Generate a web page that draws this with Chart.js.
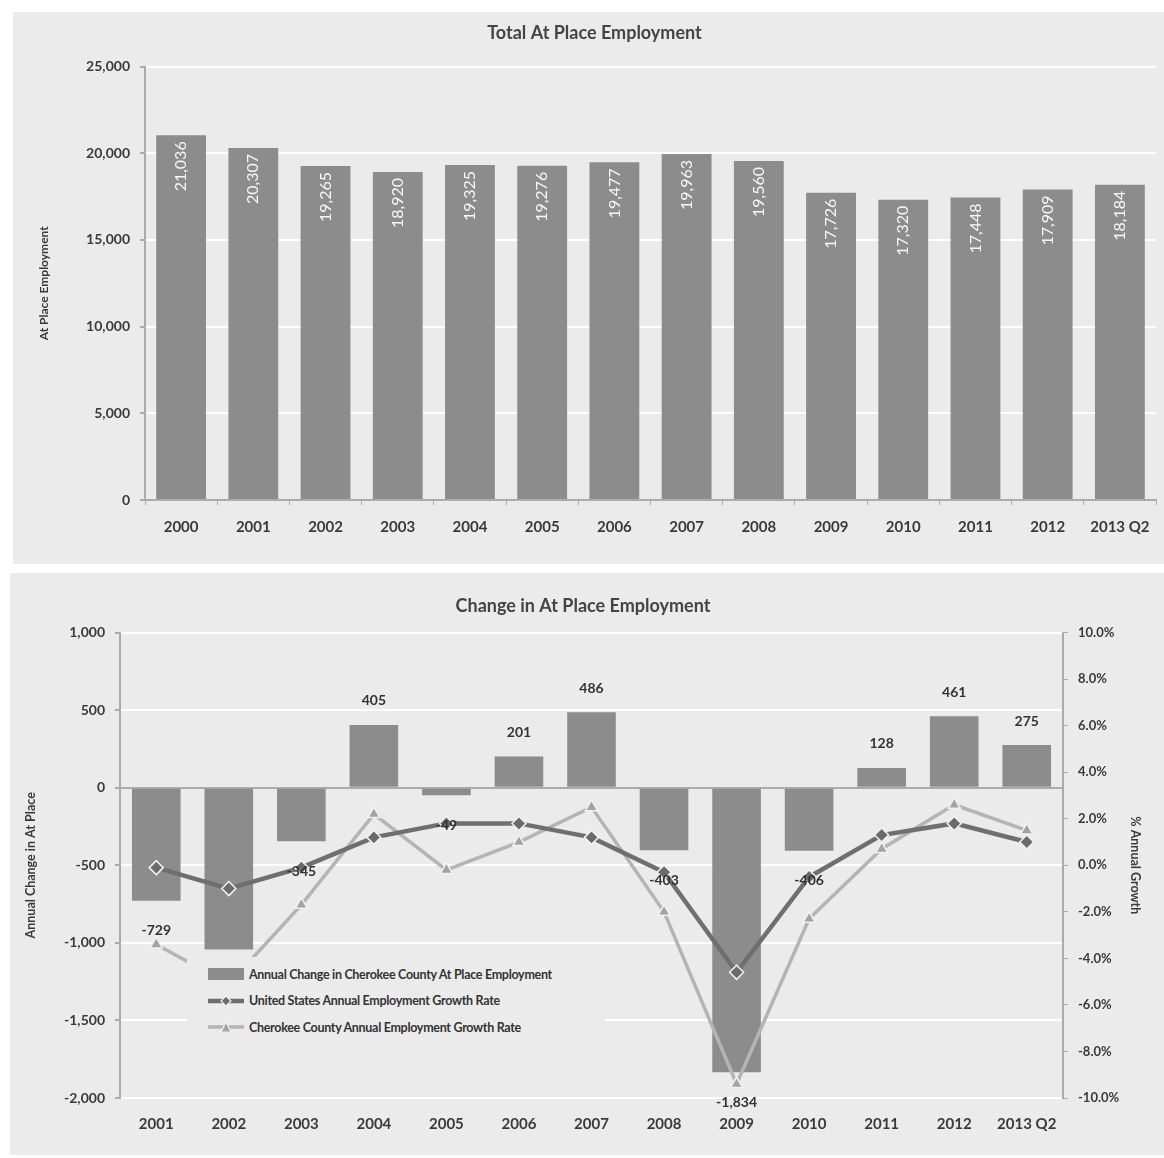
<!DOCTYPE html>
<html>
<head>
  <title>At Place Employment</title>
  <script src="https://cdn.jsdelivr.net/npm/chart.js"></script>
  <style>
    body {
      margin: 0;
      background: #ffffff;
      font-family: 'Lato', sans-serif;
    }

    .panel {
      position: absolute;
      background: #ebebeb;
    }

    #topPanel { left: 13px; top: 12px; width: 1151px; height: 552px; }
    #bottomPanel { left: 10px; top: 573px; width: 1154px; height: 582px; }

    .legend {
      position: absolute;
      left: 177px;
      top: 384px;
      width: 418px;
      padding: 4px 0 4px 20px;
      background: #ebebeb;
      box-sizing: border-box;
    }

    .legend .row {
      display: flex;
      align-items: center;
      height: 26.5px;
      font-size: 12.5px;
      font-weight: bold;
      color: #333;
      white-space: nowrap;
      letter-spacing: -0.3px;
    }

    .legend svg { margin-right: 4px; flex: none; }
  </style>
</head>
<body>

  <div class="panel" id="topPanel">
    <canvas id="totalChart" width="1151" height="552"></canvas>
  </div>

  <div class="panel" id="bottomPanel">
    <canvas id="changeChart" width="1154" height="582"></canvas>
    <div class="legend">
      <div class="row">
        <svg width="38" height="14"><rect x="1" y="1" width="36" height="12" fill="#8c8c8c"/></svg>
        Annual Change in Cherokee County At Place Employment
      </div>
      <div class="row">
        <svg width="38" height="14">
          <line x1="1" y1="7" x2="37" y2="7" stroke="#6d6d6d" stroke-width="4.5"/>
          <polygon points="19,2 24,7 19,12 14,7" fill="#6d6d6d" stroke="#f2f2f2" stroke-width="1.2"/>
        </svg>
        United States Annual Employment Growth Rate
      </div>
      <div class="row">
        <svg width="38" height="14">
          <line x1="1" y1="7" x2="37" y2="7" stroke="#b4b4b4" stroke-width="3.5"/>
          <polygon points="19,2 24,12 14,12" fill="#a3a3a3" stroke="#f2f2f2" stroke-width="1.2"/>
        </svg>
        Cherokee County Annual Employment Growth Rate
      </div>
    </div>
  </div>

  <script>
    // total at place employment
    const years = ['2000', '2001', '2002', '2003', '2004', '2005', '2006', '2007',
                   '2008', '2009', '2010', '2011', '2012', '2013 Q2'];
    const employment = [21036, 20307, 19265, 18920, 19325, 19276, 19477, 19963,
                        19560, 17726, 17320, 17448, 17909, 18184];

    // change chart
    const changeYears = ['2001', '2002', '2003', '2004', '2005', '2006', '2007',
                         '2008', '2009', '2010', '2011', '2012', '2013 Q2'];
    const annualChange = [-729, -1042, -345, 405, -49, 201, 486, -403, -1834, -406, 128, 461, 275];
    const usGrowth = [-0.1, -1.0, -0.1, 1.2, 1.8, 1.8, 1.2, -0.3, -4.6, -0.5, 1.3, 1.8, 1.0];
    const countyGrowth = [-3.4, -5.1, -1.7, 2.2, -0.2, 1.0, 2.5, -2.0, -9.4, -2.3, 0.7, 2.6, 1.5];

    const totalTicks = [0, 5000, 10000, 15000, 20000, 25000];

    const textColor = '#3a3a3a';
    const axisColor = '#ababab';
    const barColor = '#8c8c8c';
    const fmt = v => v.toLocaleString('en-US');

    Chart.defaults.font.family = "'Lato', sans-serif";
    Chart.defaults.color = textColor;
    Chart.defaults.animation = false;

    // white rotated labels inside the bars
    const insideLabels = {
      id: 'insideLabels',
      afterDatasetsDraw(chart) {
        const ctx = chart.ctx;
        const meta = chart.getDatasetMeta(0);
        ctx.save();
        ctx.fillStyle = '#f7f7f7';
        ctx.font = "16px 'Lato', sans-serif";
        meta.data.forEach((bar, i) => {
          ctx.save();
          ctx.translate(bar.x, bar.y + 6);
          ctx.rotate(-Math.PI / 2);
          ctx.textAlign = 'right';
          ctx.textBaseline = 'middle';
          ctx.fillText(fmt(employment[i]), 0, 0);
          ctx.restore();
        });
        ctx.restore();
      }
    };

    // value labels beyond the end of each bar
    const endLabels = {
      id: 'endLabels',
      afterDatasetsDraw(chart) {
        const ctx = chart.ctx;
        const meta = chart.getDatasetMeta(0);
        ctx.save();
        ctx.fillStyle = '#333';
        ctx.font = "bold 14px 'Lato', sans-serif";
        ctx.textAlign = 'center';
        ctx.textBaseline = 'middle';
        meta.data.forEach((bar, i) => {
          const v = annualChange[i];
          const y = v >= 0 ? bar.y - 24 : bar.y + 30;
          ctx.fillText(fmt(v), bar.x, y);
        });
        ctx.restore();
      }
    };

    new Chart(document.getElementById('totalChart'), {
      type: 'bar',
      data: {
        labels: years,
        datasets: [{
          label: 'At Place Employment',
          data: employment,
          backgroundColor: barColor,
          categoryPercentage: 1,
          barPercentage: 0.69
        }]
      },
      options: {
        responsive: false,
        layout: { padding: { left: 20, right: 8, top: 0, bottom: 24 } },
        plugins: {
          legend: { display: false },
          tooltip: { enabled: false },
          title: {
            display: true,
            text: 'Total At Place Employment',
            color: '#444',
            font: { size: 18, weight: 'bold' },
            padding: { top: 10, bottom: 23 }
          }
        },
        scales: {
          x: {
            afterFit: s => { s.height = 40; },
            grid: { drawOnChartArea: false, color: axisColor, tickLength: 5 },
            border: { color: axisColor, width: 2 },
            ticks: { font: { size: 15, weight: 'bold' }, padding: 13, maxRotation: 0 }
          },
          y: {
            min: 0,
            max: 25000,
            afterFit: s => { s.width = 112; },
            afterBuildTicks: s => { s.ticks = totalTicks.map(v => ({ value: v })); },
            grid: {
              color: ctx => ctx.tick && ctx.tick.value === 0 ? axisColor : '#ffffff',
              lineWidth: 2,
              tickColor: axisColor,
              tickLength: 5
            },
            border: { color: axisColor, width: 2 },
            ticks: { font: { size: 14, weight: 'bold' }, padding: 10, callback: v => fmt(v) },
            title: {
              display: true,
              text: 'At Place Employment',
              font: { size: 12, weight: 'bold' }
            }
          }
        }
      },
      plugins: [insideLabels]
    });

    new Chart(document.getElementById('changeChart'), {
      data: {
        labels: changeYears,
        datasets: [
          {
            type: 'bar',
            label: 'Annual Change in Cherokee County At Place Employment',
            data: annualChange,
            backgroundColor: barColor,
            categoryPercentage: 1,
            barPercentage: 0.67,
            yAxisID: 'y',
            order: 3
          },
          {
            type: 'line',
            label: 'United States Annual Employment Growth Rate',
            data: usGrowth,
            borderColor: '#6f6f6f',
            borderWidth: 4.5,
            pointStyle: 'rectRot',
            pointRadius: 7,
            pointBackgroundColor: '#6b6b6b',
            pointBorderColor: '#f2f2f2',
            pointBorderWidth: 1.5,
            tension: 0,
            yAxisID: 'y1',
            order: 1
          },
          {
            type: 'line',
            label: 'Cherokee County Annual Employment Growth Rate',
            data: countyGrowth,
            borderColor: '#b4b4b4',
            borderWidth: 3.5,
            pointStyle: 'triangle',
            pointRadius: 7,
            pointBackgroundColor: '#a3a3a3',
            pointBorderColor: '#f2f2f2',
            pointBorderWidth: 1.5,
            tension: 0,
            yAxisID: 'y1',
            order: 2
          }
        ]
      },
      options: {
        responsive: false,
        layout: { padding: { left: 9, right: 17, top: 0, bottom: 17 } },
        plugins: {
          legend: { display: false },
          tooltip: { enabled: false },
          title: {
            display: true,
            text: 'Change in At Place Employment',
            color: '#444',
            font: { size: 18, weight: 'bold' },
            padding: { top: 22, bottom: 16 }
          }
        },
        scales: {
          x: {
            afterFit: s => { s.height = 40; },
            grid: { display: false },
            border: { display: false },
            ticks: { font: { size: 15, weight: 'bold' }, padding: 9, maxRotation: 0 }
          },
          y: {
            position: 'left',
            min: -2000,
            max: 1000,
            afterFit: s => { s.width = 101; },
            grid: {
              color: ctx => ctx.tick && ctx.tick.value === 0 ? axisColor : '#ffffff',
              lineWidth: 2,
              tickColor: axisColor,
              tickLength: 5
            },
            border: { color: axisColor, width: 2 },
            ticks: { stepSize: 500, font: { size: 14, weight: 'bold' }, padding: 10, callback: v => fmt(v) },
            title: {
              display: true,
              text: 'Annual Change in At Place',
              font: { size: 12.5, weight: 'bold' }
            }
          },
          y1: {
            position: 'right',
            min: -10,
            max: 10,
            afterFit: s => { s.width = 84; },
            grid: { drawOnChartArea: false, color: axisColor, tickLength: 5 },
            border: { color: axisColor, width: 2 },
            ticks: { stepSize: 2, font: { size: 13, weight: 'bold' }, padding: 10, callback: v => v.toFixed(1) + '%' },
            title: {
              display: true,
              text: '% Annual Growth',
              font: { size: 12.5, weight: 'bold' }
            }
          }
        }
      },
      plugins: [endLabels]
    });
  </script>
</body>
</html>
